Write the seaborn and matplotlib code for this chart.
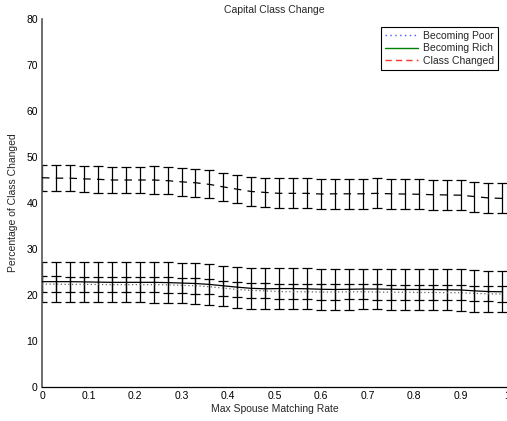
import numpy as np
import pandas as pd
import matplotlib
matplotlib.use("Agg")
import matplotlib.pyplot as plt
import seaborn as sns
from matplotlib.lines import Line2D

# ---- data ----
rate = [round(0.03 * i, 2) for i in range(34)]

changed_mean = [45.5, 45.4, 45.4, 45.25, 45.15, 45.0, 45.0, 45.0, 45.0, 44.85,
                44.6, 44.4, 44.05, 43.5, 43.0, 42.5, 42.3, 42.1, 42.1, 42.1,
                41.95, 42.0, 42.0, 42.0, 42.1, 42.0, 41.95, 41.9, 41.8, 41.75,
                41.7, 41.4, 41.1, 41.0]
changed_err = [2.85, 2.85, 2.85, 2.85, 2.9, 2.9, 2.9, 2.9, 2.95, 2.95,
               3.0, 3.0, 3.05, 3.05, 3.1, 3.1, 3.2, 3.25, 3.25, 3.25,
               3.25, 3.25, 3.25, 3.25, 3.25, 3.25, 3.25, 3.25, 3.25, 3.25,
               3.25, 3.25, 3.27, 3.27]

rich_mean = [22.9, 22.9, 22.9, 22.85, 22.8, 22.75, 22.75, 22.75, 22.75, 22.7,
             22.6, 22.5, 22.3, 22.0, 21.7, 21.45, 21.35, 21.4, 21.4, 21.35,
             21.25, 21.2, 21.25, 21.3, 21.3, 21.25, 21.2, 21.2, 21.2, 21.15,
             21.1, 20.9, 20.75, 20.7]
rich_err = [4.35, 4.35, 4.35, 4.35, 4.35, 4.35, 4.35, 4.35, 4.4, 4.4,
            4.4, 4.4, 4.4, 4.4, 4.45, 4.45, 4.45, 4.45, 4.45, 4.45,
            4.45, 4.45, 4.45, 4.45, 4.45, 4.45, 4.45, 4.5, 4.5, 4.5,
            4.5, 4.5, 4.5, 4.5]

poor_mean = [22.35, 22.35, 22.3, 22.3, 22.3, 22.25, 22.25, 22.25, 22.25, 22.2,
             22.1, 22.0, 21.8, 21.5, 21.2, 21.0, 20.9, 20.75, 20.7, 20.7,
             20.65, 20.65, 20.7, 20.7, 20.65, 20.6, 20.6, 20.55, 20.55, 20.5,
             20.5, 20.35, 20.25, 20.2]
poor_err = [1.7] * 12 + [1.65] * 22

series_names = ["Becoming Poor", "Becoming Rich", "Class Changed"]
legend_colors = ["#5050ff", "#008000", "#ff3030"]
legend_styles = [(0, (1, 2.5)), "-", (0, (4.5, 3))]

df = pd.concat([
    pd.DataFrame({"rate": rate, "value": poor_mean, "err": poor_err, "series": "Becoming Poor"}),
    pd.DataFrame({"rate": rate, "value": rich_mean, "err": rich_err, "series": "Becoming Rich"}),
    pd.DataFrame({"rate": rate, "value": changed_mean, "err": changed_err, "series": "Class Changed"}),
])

# ---- figure ----
sns.set_style("white")
plt.rcParams["font.family"] = ["Liberation Sans", "DejaVu Sans"]
plt.rcParams["font.size"] = 7.5

fig = plt.figure(figsize=(5.07, 4.21), dpi=100)
ax = fig.add_axes([42 / 507, 1 - 387 / 421, 465 / 507, (387 - 19) / 421])

line_styles = {"Becoming Poor": (0, (1, 2)), "Becoming Rich": "-", "Class Changed": (0, (6, 5))}
line_colors = {"Becoming Poor": "#666666", "Becoming Rich": "black", "Class Changed": "black"}

for name in series_names:
    sub = df[df["series"] == name]
    ax.errorbar(sub["rate"], sub["value"], yerr=sub["err"], fmt="none",
                ecolor="black", elinewidth=0.9, capsize=3.6, capthick=0.9, zorder=2)
    sns.lineplot(data=sub, x="rate", y="value", ax=ax, color=line_colors[name],
                 linestyle=line_styles[name], linewidth=0.9, legend=False, zorder=3)

ax.set_xlim(0, 1)
ax.set_ylim(0, 80)
ax.set_xticks([i / 10 for i in range(11)])
ax.set_xticklabels(["0"] + [f"{i/10:.1f}" for i in range(1, 10)] + ["1"])
ax.set_yticks(range(0, 81, 10))
ax.tick_params(direction="in", length=4, width=0.8, labelsize=7.5, colors="black", pad=3)
ax.spines["top"].set_visible(False)
ax.spines["right"].set_visible(False)
ax.spines["left"].set_color("#555555")
ax.spines["left"].set_linewidth(1.2)
ax.spines["bottom"].set_color("black")
ax.spines["bottom"].set_linewidth(0.9)

ax.set_title("Capital Class Change", fontsize=7.5, pad=4)
ax.set_xlabel("Max Spouse Matching Rate", fontsize=7.5, labelpad=2)
ax.set_ylabel("Percentage of Class Changed", fontsize=7.5, labelpad=6)

handles = [Line2D([0], [0], color=c, linestyle=s, linewidth=1.0)
           for c, s in zip(legend_colors, legend_styles)]
leg = ax.legend(handles, series_names, loc="upper right",
                bbox_to_anchor=(498 / 507, 1 - 27 / 421), bbox_transform=fig.transFigure,
                fontsize=7.5, frameon=True, fancybox=False, framealpha=1,
                edgecolor="black", handlelength=3.2, handletextpad=0.5,
                borderpad=0.35, labelspacing=0.25, borderaxespad=0)
leg.get_frame().set_linewidth(0.8)

fig.savefig("out.png", dpi=100)
